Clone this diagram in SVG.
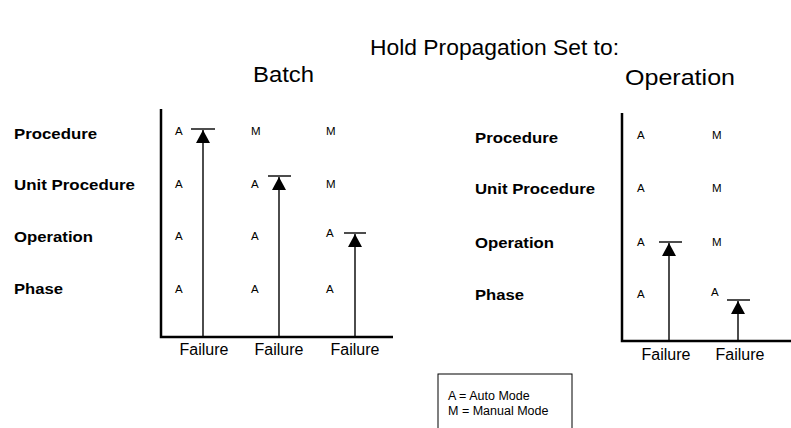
<svg xmlns="http://www.w3.org/2000/svg" width="791" height="428" viewBox="0 0 791 428">
<style>
text{font-family:"Liberation Sans",Arial,sans-serif;fill:#000}
.t{font-size:21.5px}
.lbl{font-size:14.5px;font-weight:bold}
.m{font-size:11.5px}
.f{font-size:16px}
.lg{font-size:12.5px}
.axis{stroke:#000;stroke-width:2.5;fill:none}
.shaft{stroke:#000;stroke-width:1.4;fill:none}
.bar{stroke:#000;stroke-width:1.4;fill:none}
</style>
<defs>
<marker id="ah" markerUnits="userSpaceOnUse" markerWidth="14" markerHeight="14" refX="13" refY="7" orient="auto">
<path d="M0,0 L13,7 L0,14 z" fill="#000"/>
</marker>
</defs>
<rect width="791" height="428" fill="#fff"/>
<g id="title">
<text class="t" x="370" y="55" textLength="249" lengthAdjust="spacingAndGlyphs">Hold Propagation Set to:</text>
</g>
<g id="batch-chart">
<text class="t" x="253" y="82" textLength="61" lengthAdjust="spacingAndGlyphs">Batch</text>
<text class="lbl" x="14" y="139" textLength="83" lengthAdjust="spacingAndGlyphs">Procedure</text>
<text class="lbl" x="14" y="190" textLength="121" lengthAdjust="spacingAndGlyphs">Unit Procedure</text>
<text class="lbl" x="14" y="242" textLength="79" lengthAdjust="spacingAndGlyphs">Operation</text>
<text class="lbl" x="14" y="294" textLength="49" lengthAdjust="spacingAndGlyphs">Phase</text>
<path class="axis" d="M161,109 V337 H393"/>
<text class="m" x="175" y="135">A</text>
<text class="m" x="175" y="188">A</text>
<text class="m" x="175" y="240">A</text>
<text class="m" x="175" y="293">A</text>
<text class="m" x="251" y="135">M</text>
<text class="m" x="251" y="188">A</text>
<text class="m" x="251" y="240">A</text>
<text class="m" x="251" y="293">A</text>
<text class="m" x="326" y="135">M</text>
<text class="m" x="326" y="188">M</text>
<text class="m" x="326" y="237">A</text>
<text class="m" x="326" y="293">A</text>
<text class="f" x="204" y="355" text-anchor="middle">Failure</text>
<text class="f" x="279" y="355" text-anchor="middle">Failure</text>
<text class="f" x="355" y="355" text-anchor="middle">Failure</text>
</g>
<g id="operation-chart">
<text class="t" x="625" y="85" textLength="110" lengthAdjust="spacingAndGlyphs">Operation</text>
<text class="lbl" x="475" y="143" textLength="83" lengthAdjust="spacingAndGlyphs">Procedure</text>
<text class="lbl" x="475" y="194" textLength="120" lengthAdjust="spacingAndGlyphs">Unit Procedure</text>
<text class="lbl" x="475" y="248" textLength="79" lengthAdjust="spacingAndGlyphs">Operation</text>
<text class="lbl" x="475" y="300" textLength="49" lengthAdjust="spacingAndGlyphs">Phase</text>
<path class="axis" d="M622,113 V341 H791"/>
<text class="m" x="637" y="139">A</text>
<text class="m" x="637" y="192">A</text>
<text class="m" x="637" y="246">A</text>
<text class="m" x="637" y="298">A</text>
<text class="m" x="712" y="139">M</text>
<text class="m" x="712" y="192">M</text>
<text class="m" x="712" y="246">M</text>
<text class="m" x="711" y="296">A</text>
<text class="f" x="666" y="360" text-anchor="middle">Failure</text>
<text class="f" x="740" y="360" text-anchor="middle">Failure</text>
</g>
<g id="legend">
<rect x="438" y="374" width="134" height="70" fill="none" stroke="#000" stroke-width="1"/>
<text class="lg" x="448" y="400">A = Auto Mode</text>
<text class="lg" x="448" y="415">M = Manual Mode</text>
</g>
<g id="connectors">
<line class="shaft" x1="203" y1="337" x2="203" y2="130" marker-end="url(#ah)"/>
<line class="bar" x1="191" y1="129" x2="215" y2="129"/>
<line class="shaft" x1="279" y1="337" x2="279" y2="177" marker-end="url(#ah)"/>
<line class="bar" x1="268" y1="176" x2="291" y2="176"/>
<line class="shaft" x1="355" y1="337" x2="355" y2="234" marker-end="url(#ah)"/>
<line class="bar" x1="344" y1="233" x2="366" y2="233"/>
<line class="shaft" x1="669" y1="341" x2="669" y2="243" marker-end="url(#ah)"/>
<line class="bar" x1="659" y1="242" x2="682" y2="242"/>
<line class="shaft" x1="738" y1="341" x2="738" y2="301" marker-end="url(#ah)"/>
<line class="bar" x1="727" y1="300" x2="750" y2="300"/>
</g>
</svg>
